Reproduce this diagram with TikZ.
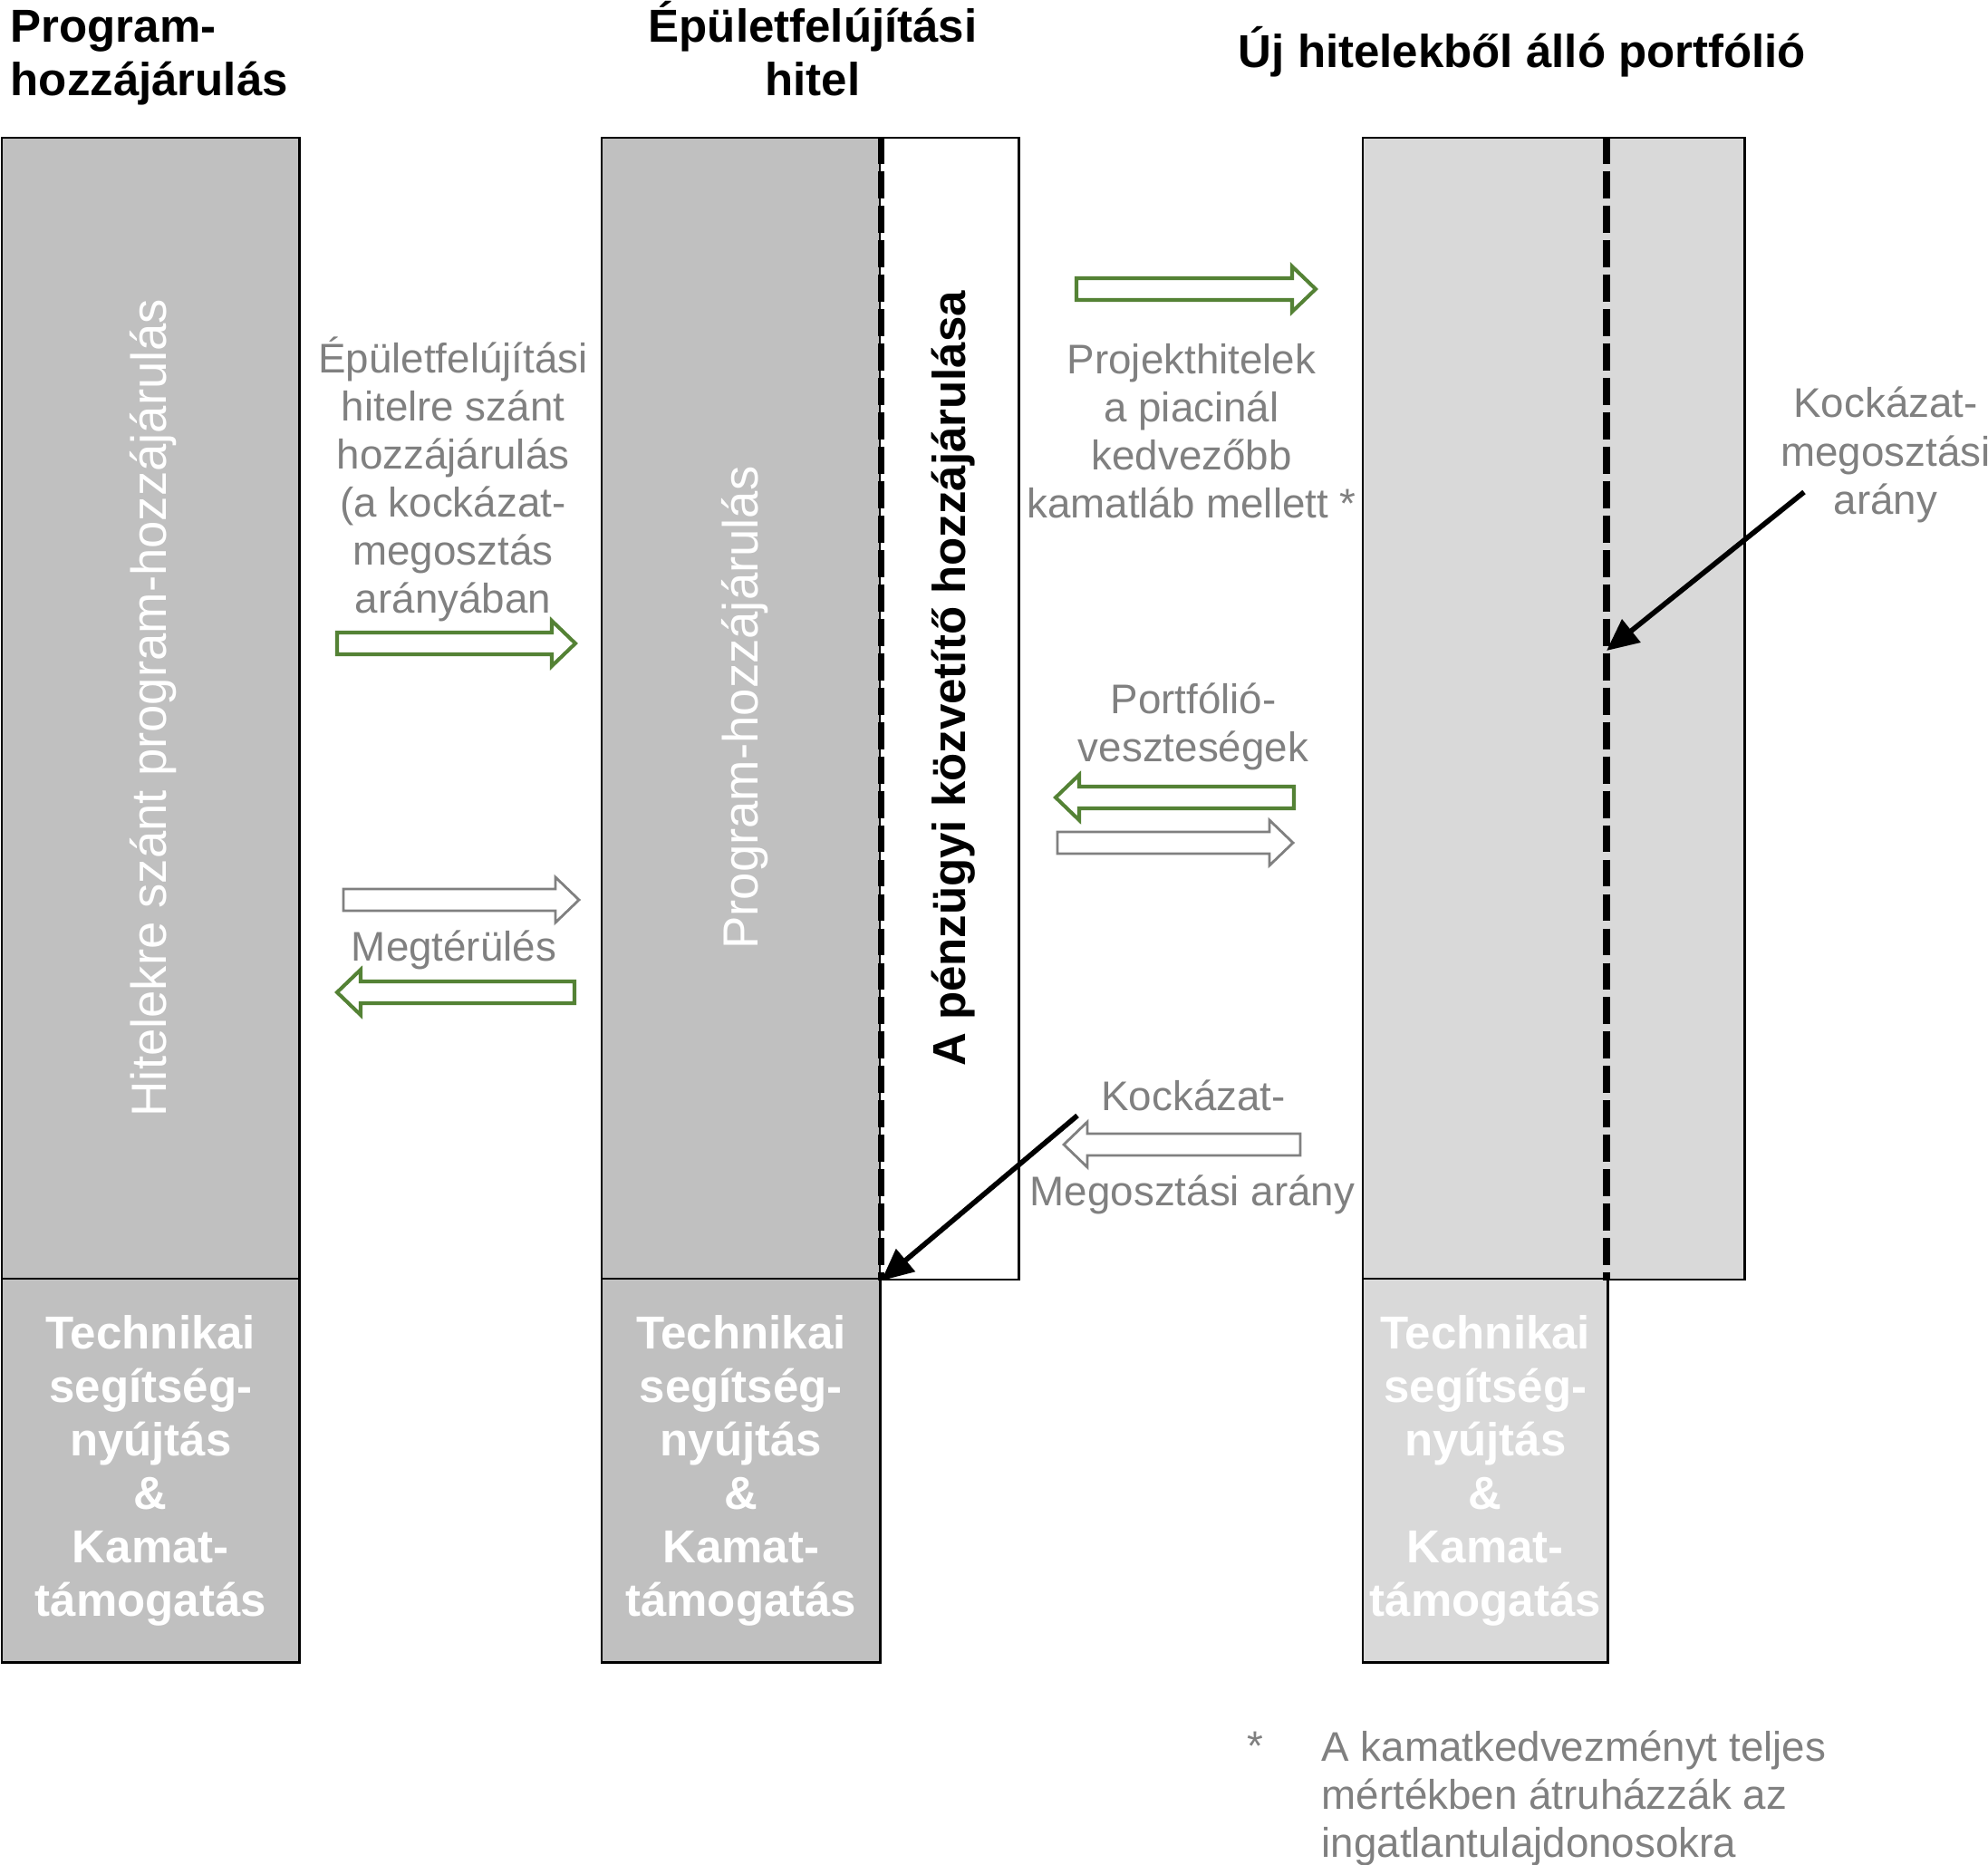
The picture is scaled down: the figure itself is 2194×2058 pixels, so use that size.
\documentclass[tikz,border=0pt]{standalone}
\usepackage{fontspec}
\setmainfont{Liberation Sans}
\usetikzlibrary{arrows.meta}

\definecolor{boxgrey}{HTML}{C0C0C0}
\definecolor{portgrey}{HTML}{D9D9D9}
\definecolor{labelgrey}{HTML}{808080}
\definecolor{flowgreen}{HTML}{548235}

\tikzset{
    colbox/.style = {rectangle, draw=black, line width=0.7pt, inner sep=0pt, anchor=north west},
    coltitle/.style = {font=\bfseries\fontsize{14.5pt}{16.8pt}\selectfont, inner sep=0pt},
    flowtext/.style = {text=labelgrey, font=\fontsize{13pt}{15.1pt}\selectfont, align=center, inner sep=0pt},
    tatext/.style = {text=white, font=\bfseries\fontsize{14.5pt}{16.8pt}\selectfont, align=center},
    sidetext/.style = {rotate=90, anchor=base, inner sep=0pt},
    splitline/.style = {line width=2.1pt, dash pattern=on 8.5pt off 2.3pt},
    sharearrow/.style = {line width=1.6pt, -{Triangle[length=10pt,width=9pt]}},
    greenflow/.style = {draw=flowgreen, line width=1.15pt, fill=white},
    greyflow/.style = {draw=labelgrey, line width=0.8pt, fill=white}
}

% hollow block arrow: style, tail x, tip x, y
\newcommand{\flowarrow}[4]{%
    \pgfmathsetmacro{\flowhead}{#3-26*sign(#3-#2)}%
    \draw[#1] (#2,#4-12) -- (\flowhead,#4-12) -- (\flowhead,#4-25) -- (#3,#4)
        -- (\flowhead,#4+25) -- (\flowhead,#4+12) -- (#2,#4+12) -- cycle;}

\begin{document}
\begin{tikzpicture}[x=0.01cm, y=-0.01cm]

\useasboundingbox (0,0) rectangle (2194,2058);

\node (fundbox) [colbox, fill=boxgrey, minimum width=3.28cm, minimum height=12.59cm] at (1,151) {};
\node (fundta) [colbox, tatext, fill=boxgrey, minimum width=3.28cm, minimum height=4.23cm] at (1,1410)
{Technikai\\segítség-\\nyújtás\\\&\\Kamat-\\támogatás};

\node (loanfund) [colbox, fill=boxgrey, minimum width=3.07cm, minimum height=12.59cm] at (663,151) {};
\node (loanshare) [colbox, fill=white, minimum width=1.53cm, minimum height=12.59cm] at (970,151) {};
\node (loanta) [colbox, tatext, fill=boxgrey, minimum width=3.07cm, minimum height=4.23cm] at (663,1410)
{Technikai\\segítség-\\nyújtás\\\&\\Kamat-\\támogatás};

\node (portbox) [colbox, fill=portgrey, minimum width=4.21cm, minimum height=12.59cm] at (1503,151) {};
\node (portta) [colbox, tatext, fill=portgrey, minimum width=2.70cm, minimum height=4.23cm] at (1503,1410)
{Technikai\\segítség-\\nyújtás\\\&\\Kamat-\\támogatás};

\node (fundtitle) [coltitle, anchor=west, align=left] at (11,64) {Program-\\hozzájárulás};
\node (loantitle) [coltitle, align=center] at (897,54) {Épületfelújítási\\hitel};
\node (porttitle) [coltitle, anchor=base] at (1680,75) {Új hitelekből álló portfólió};

\node (fundside) [sidetext, text=white, font=\fontsize{15.5pt}{18pt}\selectfont] at (183,781)
{Hitelekre szánt program-hozzájárulás};
\node (loanside) [sidetext, text=white, font=\fontsize{15.5pt}{18pt}\selectfont] at (836,781)
{Program-hozzájárulás};
\node (shareside) [sidetext, font=\bfseries\fontsize{14.5pt}{17pt}\selectfont] at (1065,749)
{A pénzügyi közvetítő hozzájárulása};

\node (sharetext) [flowtext] at (500,529)
{Épületfelújítási\\hitelre szánt\\hozzájárulás\\(a kockázat-\\megosztás\\arányában};
\node (returntext) [flowtext, anchor=base] at (501,1060) {Megtérülés};
\node (loantext) [flowtext] at (1315,476)
{Projekthitelek\\a piacinál\\kedvezőbb\\kamatláb mellett *};
\node (losstext) [flowtext] at (1317,802) {Portfólió-\\veszteségek};
\node (risktext) [flowtext, anchor=base] at (1317,1225) {Kockázat-};
\node (ratiotext) [flowtext, anchor=base] at (1316,1330) {Megosztási arány};
\node (portratio) [flowtext] at (2081,502) {Kockázat-\\megosztási\\arány};

\node (notestar) [flowtext, anchor=base] at (1385,1942) {*};
\node (notetext) [flowtext, align=left, anchor=west] at (1458,1984)
{A kamatkedvezményt teljes\\mértékben átruházzák az\\ingatlantulajdonosokra};

\flowarrow{greenflow}{372}{635}{710}
\flowarrow{greyflow}{379}{639}{993}
\flowarrow{greenflow}{634}{372}{1095}
\flowarrow{greenflow}{1188}{1452}{319}
\flowarrow{greenflow}{1428}{1165}{880}
\flowarrow{greyflow}{1167}{1427}{930}
\flowarrow{greyflow}{1435}{1174}{1263}

\coordinate (portsplit) at (1773,151);
\draw [splitline] (loanfund.north east) -- (loanfund.south east);
\draw [splitline] (portsplit) -- (portsplit |- portbox.south);

\coordinate (riskfrom) at (1189,1231);
\coordinate (ratiofrom) at (1991,543);
\coordinate (ratioto) at (1773,718);
\draw [sharearrow] (riskfrom) -- (loanfund.south east);
\draw [sharearrow] (ratiofrom) -- (ratioto);

\end{tikzpicture}
\end{document}
